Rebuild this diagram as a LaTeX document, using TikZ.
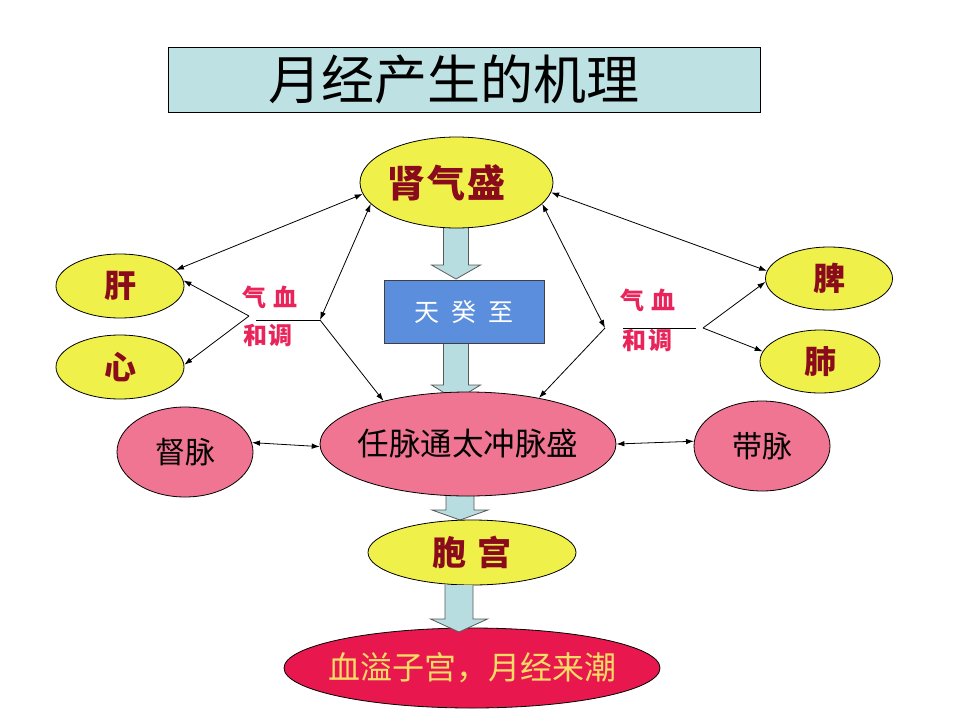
\documentclass[tikz,border=0pt]{standalone}
\usepackage{fontspec}
\setmainfont{Noto Sans CJK SC}
\usetikzlibrary{shapes.geometric,arrows.meta,backgrounds}
\definecolor{titlebg}{HTML}{BEE1E3}
\definecolor{yel}{HTML}{F0F04A}
\definecolor{dred}{HTML}{8A0C1C}
\definecolor{pinkf}{HTML}{F07592}
\definecolor{bluef}{HTML}{5B8EDC}
\definecolor{arrf}{HTML}{B8DDE0}
\definecolor{crim}{HTML}{E8184F}
\definecolor{ytext}{HTML}{F7DC66}
\definecolor{rtext}{HTML}{E8245A}
\newcommand\barrow[6]{% cx, shaft half, head half, top y, base y, tip y
  \filldraw[blockarr] (#1-#2,#4) -- (#1-#2,#5) -- (#1-#3,#5) -- (#1,#6) -- (#1+#3,#5) -- (#1+#2,#5) -- (#1+#2,#4);}
\newcommand\zb[1]{\makebox[0pt]{#1}}
\begin{document}
\begin{tikzpicture}[x=1pt,y=-1pt,
  blockarr/.style={fill=arrf,draw=black!65,line width=0.8pt,line join=miter},
  oval/.style={ellipse,draw=black,line width=0.8pt,inner sep=0pt},
  yoval/.style={oval,fill=yel,text=dred,font=\bfseries},
  poval/.style={oval,fill=pinkf,text=black},
  conn/.style={draw=black,line width=0.8pt},
  dbl/.style={conn,{Latex[length=8pt,width=5.5pt]}-{Latex[length=8pt,width=5.5pt]}},
  sgl/.style={conn,-{Latex[length=8pt,width=5.5pt]}},
  qx/.style={text=rtext,font=\fontsize{24}{26}\selectfont\bfseries,inner sep=0pt}]
\useasboundingbox (0,0) rectangle (960,720);

% title
\node[draw=black,line width=1pt,fill=titlebg,minimum width=592pt,minimum height=65pt,inner sep=0pt,font=\fontsize{53}{58}\selectfont] (title) at (464,79.5) {\zb{月经产生的机理\hspace{20pt}}};

% main nodes
\node[yoval,minimum width=193pt,minimum height=91pt,font=\fontsize{38}{42}\selectfont\bfseries] (kid) at (456.5,182.5) {\zb{肾\hspace{2pt}气\hspace{2pt}盛\hspace{20pt}}};
\node[rectangle,draw=black!75,line width=0.8pt,fill=bluef,text=white,minimum width=160pt,minimum height=63pt,inner sep=0pt,font=\fontsize{25}{27}\selectfont] (tg) at (464,311.5) {天\hspace{12pt}癸\hspace{12pt}至};
\node[poval,minimum width=296pt,minimum height=104pt,font=\fontsize{31.5}{34}\selectfont] (ren) at (468,444) {\zb{任脉通太冲脉盛}};
\node[poval,minimum width=136pt,minimum height=90pt,font=\fontsize{30}{32}\selectfont] (du) at (185,452) {\zb{督脉}};
\node[poval,minimum width=136pt,minimum height=90pt,font=\fontsize{30}{32}\selectfont] (dai) at (762,446) {\zb{带脉}};
\node[yoval,minimum width=128pt,minimum height=64pt,font=\fontsize{32}{34}\selectfont\bfseries] (gan) at (120,286) {\zb{肝}};
\node[yoval,minimum width=128pt,minimum height=64pt,font=\fontsize{32}{34}\selectfont\bfseries] (xin) at (120,367) {\zb{心}};
\node[yoval,minimum width=127pt,minimum height=63pt,font=\fontsize{32}{34}\selectfont\bfseries] (pi) at (829,278.5) {\zb{脾}};
\node[yoval,minimum width=120pt,minimum height=63pt,font=\fontsize{32}{34}\selectfont\bfseries] (fei) at (820,361.5) {\zb{肺}};
\node[yoval,minimum width=208pt,minimum height=65pt,font=\fontsize{34}{37}\selectfont\bfseries] (bg) at (472,552.5) {\zb{胞\hspace{12pt}宫}};
\node[oval,fill=crim,text=ytext,minimum width=376pt,minimum height=80pt,font=\fontsize{32}{35}\selectfont] (end) at (472,668) {\zb{血溢子宫，月经来潮}};

% block arrows behind nodes
\begin{scope}[on background layer]
  \barrow{456}{12.5}{24.5}{215}{265}{279}
  \barrow{456}{12.5}{24.5}{330}{385}{400}
  \barrow{460}{14}{28}{480}{510}{520}
\end{scope}
\barrow{459}{14}{28.5}{585}{619}{632}

% labels
\node[qx] (qxL1) at (270,297) {气\hspace{7pt}血};
\node[qx] (qxL2) at (268,335) {和\hspace{2pt}调};
\node[qx] (qxR1) at (648,300) {气\hspace{7pt}血};
\node[qx] (qxR2) at (647,340) {和\hspace{2pt}调};

% junction coordinates
\coordinate (jL) at (320,320);
\coordinate (hL) at (256,320);
\coordinate (sL) at (249,316);
\coordinate (jR) at (605,328);
\coordinate (hR1) at (623,328);
\coordinate (hR2) at (696,328);
\coordinate (sR) at (703,328);

% connectors
\draw[dbl] (gan.16) -- (kid.187);
\draw[dbl] (jL) -- (kid.194);
\draw[sgl] (jL) -- (ren.153);
\draw[conn] (hL) -- (jL);
\draw[sgl] (sL) -- (gan.5);
\draw[sgl] (sL) -- (xin.2);

\draw[dbl] (kid.-6) -- (pi.173);
\draw[dbl] (kid.-14) -- (jR);
\draw[sgl] (jR) -- (ren.33);
\draw[conn] (hR1) -- (hR2);
\draw[sgl] (sR) -- (pi.183);
\draw[sgl] (sR) -- (fei.170);

\draw[dbl] (du.8) -- (ren.181);
\draw[dbl] (ren.0) -- (dai.176);
\end{tikzpicture}
\end{document}
